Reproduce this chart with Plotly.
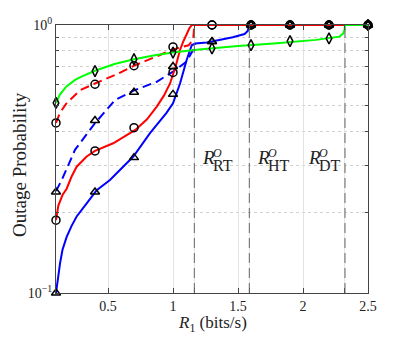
import math
import plotly.graph_objects as go

# simulation points (markers)
x_pts = [0.1, 0.4, 0.7, 1.0, 1.3, 1.6, 1.9, 2.2, 2.5]
green_pts = [0.512, 0.673, 0.745, 0.789, 0.818, 0.841, 0.871, 0.891, 1.0]
red_dash_pts = [0.431, 0.601, 0.705, 0.828, 1, 1, 1, 1, 1]
red_solid_pts = [0.187, 0.339, 0.414, 0.665, 1, 1, 1, 1, 1]
blue_dash_pts = [0.238, 0.44, 0.561, 0.70, 0.867, 1, 1, 1, 1]
blue_solid_pts = [0.1, 0.238, 0.32, 0.551, 0.867, 1, 1, 1, 1]

# analytical curves
green_x = [0.1, 0.13, 0.18, 0.25, 0.3, 0.4, 0.55, 0.7, 0.85, 1.0, 1.2, 1.5, 1.8, 2.1, 2.28, 2.31, 2.32, 2.323, 2.5]
green_y = [0.512, 0.55, 0.59, 0.625, 0.643, 0.675, 0.715, 0.745, 0.77, 0.79, 0.81, 0.835, 0.855, 0.88, 0.905, 0.93, 0.96, 1.0, 1.0]

red_dash_x = [0.1, 0.13, 0.18, 0.285, 0.4, 0.567, 0.7, 0.875, 1.0, 1.12, 1.155, 1.164, 2.5]
red_dash_y = [0.431, 0.47, 0.51, 0.571, 0.605, 0.655, 0.705, 0.765, 0.81, 0.84, 0.88, 1.0, 1.0]

red_solid_x = [0.1, 0.118, 0.15, 0.182, 0.22, 0.259, 0.336, 0.4, 0.54, 0.71, 0.8, 0.875, 0.93, 0.977, 1.02, 1.054, 1.08, 1.105, 1.125, 1.144, 2.5]
red_solid_y = [0.187, 0.212, 0.232, 0.245, 0.272, 0.296, 0.323, 0.339, 0.362, 0.406, 0.445, 0.496, 0.545, 0.605, 0.7, 0.807, 0.87, 0.93, 0.97, 1.0, 1.0]

blue_dash_x = [0.1, 0.144, 0.246, 0.362, 0.4, 0.554, 0.7, 0.875, 1.0, 1.105, 1.156, 1.17]
blue_dash_y = [0.24, 0.264, 0.342, 0.406, 0.43, 0.525, 0.57, 0.614, 0.67, 0.73, 0.81, 0.853]

blue_solid_x = [0.1, 0.11, 0.118, 0.131, 0.15, 0.182, 0.22, 0.259, 0.336, 0.413, 0.515, 0.567, 0.695, 0.823, 0.95, 1.0, 1.054, 1.105, 1.144, 1.17, 1.26, 1.46, 1.55, 1.575, 1.587, 2.5]
blue_solid_y = [0.1, 0.109, 0.115, 0.129, 0.145, 0.162, 0.178, 0.193, 0.216, 0.242, 0.264, 0.28, 0.323, 0.395, 0.47, 0.51, 0.605, 0.74, 0.84, 0.853, 0.86, 0.9, 0.925, 0.95, 1.0, 1.0]

# threshold rates and their labels
thr_x = [1.164, 1.587, 2.323]
thr_names = ["RT", "HT", "DT"]
label_x = [1.208, 1.631, 2.023]

FONT = "Liberation Serif"
fig = go.Figure()

curves = [
    (blue_dash_x, blue_dash_y, "#0000ff", "9px,5px"),
    (blue_solid_x, blue_solid_y, "#0000ff", "solid"),
    (red_dash_x, red_dash_y, "#ff0000", "9px,5px"),
    (red_solid_x, red_solid_y, "#ff0000", "solid"),
    (green_x, green_y, "#00ff00", "solid"),
]
for cx, cy, col, dash in curves:
    fig.add_trace(go.Scatter(x=cx, y=cy, mode="lines",
                             line=dict(color=col, width=2, dash=dash)))

markers = [
    (green_pts, "diamond-tall-open"),
    (red_dash_pts, "circle-open"),
    (red_solid_pts, "circle-open"),
    (blue_dash_pts, "triangle-up-open"),
    (blue_solid_pts, "triangle-up-open"),
]
for ys, sym in markers:
    fig.add_trace(go.Scatter(x=x_pts, y=ys, mode="markers", cliponaxis=False,
                             marker=dict(symbol=sym, size=8, color="black",
                                         line=dict(color="black", width=1.5))))

for tx in thr_x:
    fig.add_shape(type="line", x0=tx, x1=tx, y0=0, y1=1, yref="paper",
                  line=dict(color="#666666", width=1, dash="10px,5px"))

label_y = math.log10(0.319)  # annotations on a log axis use log units
for lx, nm in zip(label_x, thr_names):
    fig.add_annotation(x=lx, y=label_y, text="<i>R</i>", showarrow=False,
                       xanchor="left", yanchor="middle",
                       font=dict(family=FONT, size=19, color="#222"))
    fig.add_annotation(x=lx, y=label_y, text="<i>O</i>", showarrow=False,
                       xanchor="left", yanchor="middle", xshift=11, yshift=5,
                       font=dict(family=FONT, size=12, color="#222"))
    fig.add_annotation(x=lx, y=label_y, text=nm, showarrow=False,
                       xanchor="left", yanchor="middle", xshift=11, yshift=-8,
                       font=dict(family=FONT, size=16, color="#222"))

# axis titles
fig.add_annotation(x=0.5, y=0, xref="paper", yref="paper", yanchor="top",
                   yshift=-18, showarrow=False,
                   text="<i>R</i><sub>1</sub> (bits/s)",
                   font=dict(family=FONT, size=17, color="#222"))
fig.add_annotation(x=0, y=0.478, xref="paper", yref="paper",
                   xanchor="center", yanchor="middle", xshift=-36,
                   textangle=-90, showarrow=False, text="Outage Probability",
                   font=dict(family=FONT, size=19, color="#222"))

# the page body adds an 8px offset, so margins are shifted to compensate
fig.update_layout(
    width=407, height=337,
    margin=dict(l=48, r=47, t=17, b=52),
    plot_bgcolor="white", paper_bgcolor="white",
    showlegend=False,
    font=dict(family=FONT, size=14, color="#222"),
)
fig.update_xaxes(
    range=[0.1, 2.5], automargin=False,
    tickvals=[0.5, 1, 1.5, 2, 2.5] + thr_x,
    ticktext=["0.5", "1", "1.5", "2", "2.5", "", "", ""],
    ticks="inside", ticklen=5, tickcolor="#444",
    showgrid=True, gridcolor="#e3e3e3", gridwidth=1,
    showline=True, linecolor="#444", linewidth=1, mirror="ticks",
    zeroline=False,
)
fig.update_yaxes(
    type="log", range=[-1, 0], automargin=False,
    tickvals=[0.1, 1], ticktext=["10<sup>−1</sup>", "10<sup>0</sup>"],
    ticks="inside", ticklen=5, tickcolor="#444",
    showgrid=True, gridcolor="#e3e3e3", gridwidth=1,
    minor=dict(tickvals=[0.2, 0.3, 0.4, 0.5, 0.6, 0.7, 0.8, 0.9],
               ticks="inside", ticklen=3, tickcolor="#444",
               showgrid=True, gridcolor="#d0d0d0", griddash="dot", gridwidth=1),
    showline=True, linecolor="#444", linewidth=1, mirror="ticks",
    zeroline=False,
)

fig.write_html("out.html")
